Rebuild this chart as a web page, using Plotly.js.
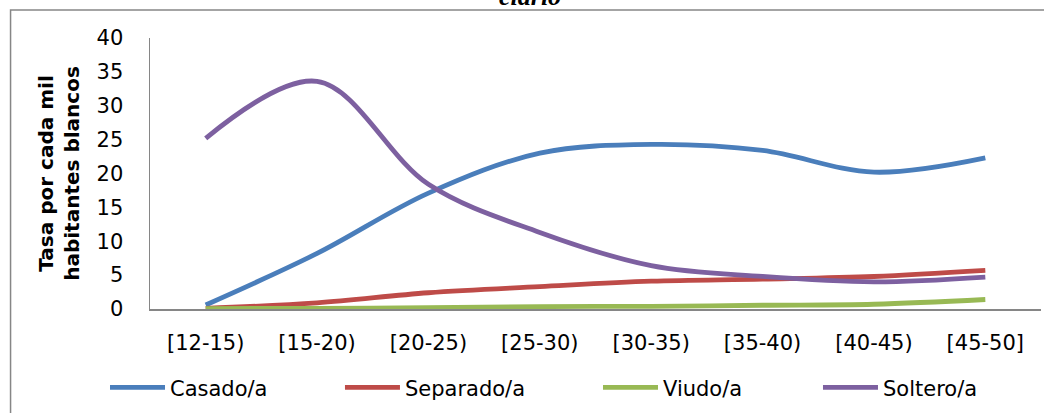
<!DOCTYPE html>
<html>
<head>
<meta charset="utf-8">
<script src="https://cdn.plot.ly/plotly-3.0.1.min.js"></script>
<style>html,body{margin:0;padding:0;background:#fff;}#chart{width:1044px;height:413px;}</style>
</head>
<body>
<div id="chart"></div>
<script>
const categories = ['[12-15)','[15-20)','[20-25)','[25-30)','[30-35)','[35-40)','[40-45)','[45-50]'];
const casado   = [0.6, 8.2, 17.1, 23.0, 24.3, 23.4, 20.2, 22.3];
const separado = [0.1, 0.9, 2.4, 3.3, 4.1, 4.4, 4.8, 5.7];
const viudo    = [0.05, 0.1, 0.2, 0.35, 0.4, 0.55, 0.7, 1.4];
const soltero  = [25.2, 33.6, 18.4, 11.3, 6.4, 4.8, 4.0, 4.7];
const seriesNames = ['Casado/a','Separado/a','Viudo/a','Soltero/a'];
const seriesColors = ['#4A7EBB','#BE4B48','#98B954','#7D60A0'];
const yTitle = '<b>Tasa por cada mil<br>habitantes blancos</b>';
const topTitle = 'ciario';

const legendIds = ['legend','legend2','legend3','legend4'];
const legendX = [-0.0505, 0.2132, 0.5028, 0.7497];

const seriesData = [casado, separado, viudo, soltero];
const traces = seriesData.map((vals, i) => ({
  type: 'scatter',
  mode: 'lines',
  x: categories,
  y: vals,
  name: seriesNames[i],
  legend: legendIds[i],
  line: {color: seriesColors[i], width: 4.8, shape: 'spline', smoothing: 1}
}));

const font = 'DejaVu Sans, sans-serif';
const layout = {
  width: 1044,
  height: 413,
  margin: {l: 150, r: 3, t: 38, b: 104},
  paper_bgcolor: '#ffffff',
  plot_bgcolor: '#ffffff',
  showlegend: true,
  font: {family: font, size: 21, color: '#000000'},
  xaxis: {
    type: 'category',
    showgrid: false,
    zeroline: false,
    showline: true,
    linecolor: '#868686',
    linewidth: 1.5,
    ticks: '',
    ticklabelstandoff: 14,
    tickfont: {family: font, size: 21, color: '#000'},
    range: [-0.5, 7.5],
    fixedrange: true
  },
  yaxis: {
    range: [0, 40],
    dtick: 5,
    showgrid: false,
    zeroline: false,
    showline: true,
    linecolor: '#868686',
    linewidth: 1.5,
    ticks: '',
    ticklabelstandoff: 21,
    tickfont: {family: font, size: 21, color: '#000'},
    title: {text: yTitle, font: {family: font, size: 20, color: '#000'}, standoff: 11},
    fixedrange: true
  },
  shapes: [{
    type: 'rect', xref: 'paper', yref: 'paper',
    x0: -0.1565, x1: 1.2, y0: -0.6, y1: 1.1033,
    line: {color: '#868686', width: 1.5},
    fillcolor: 'rgba(0,0,0,0)', layer: 'below'
  }],
  annotations: [{
    text: '<b><i>' + topTitle + '</i></b>',
    xref: 'paper', yref: 'paper',
    x: 0.4265, y: 1.152, xanchor: 'center', yanchor: 'middle',
    showarrow: false,
    font: {family: 'Liberation Serif, serif', size: 26, color: '#000'}
  }]
};

legendIds.forEach((id, i) => {
  layout[id] = {
    orientation: 'h',
    x: legendX[i],
    xanchor: 'left',
    y: -0.215,
    yanchor: 'top',
    font: {family: font, size: 21, color: '#000'},
    itemwidth: 55,
    bgcolor: 'rgba(0,0,0,0)'
  };
});

Plotly.newPlot('chart', traces, layout, {displayModeBar: false, staticPlot: true});
</script>
</body>
</html>
